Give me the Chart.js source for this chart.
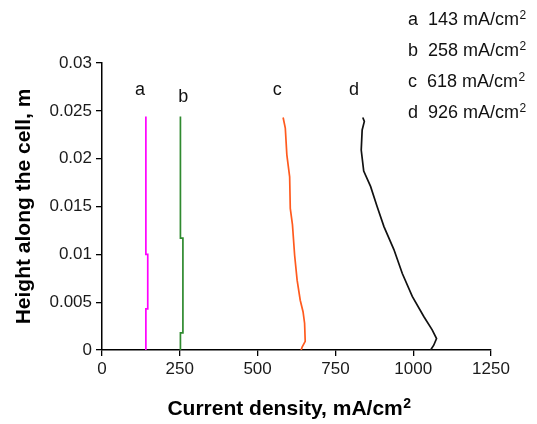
<!DOCTYPE html>
<html>
<head>
<meta charset="utf-8">
<script src="https://cdn.jsdelivr.net/npm/chart.js@4/dist/chart.umd.min.js"></script>
<style>
  html, body { margin: 0; padding: 0; background: #fff; }
  #wrap { width: 537px; height: 424px; position: relative; }
</style>
</head>
<body>
<div id="wrap"><canvas id="c"></canvas></div>
<script>
// ---- data ----
const seriesNames = ['a', 'b', 'c', 'd'];
const legendValues = [143, 258, 618, 926];
const unitText = 'mA/cm';

const aX = [141, 141, 147, 147, 141, 141];
const aY = [0, 0.0043, 0.0043, 0.0100, 0.0100, 0.0244];

const bX = [252, 252, 260, 260, 252, 252];
const bY = [0, 0.0018, 0.0018, 0.0117, 0.0117, 0.0244];

const cX = [640, 643, 653, 651, 646, 637, 627, 619, 612, 605, 603, 594, 589, 582];
const cY = [0, 0.0003, 0.0009, 0.0028, 0.0040, 0.0052, 0.0073, 0.0099, 0.0131, 0.0148, 0.0181, 0.0204, 0.0232, 0.0243];

const dX = [1056, 1066, 1075, 1061, 1034, 997, 965, 938, 906, 884, 863, 841, 833, 836, 843, 838];
const dY = [0, 0.0005, 0.0012, 0.0021, 0.0035, 0.0056, 0.0080, 0.0105, 0.0129, 0.0150, 0.0171, 0.0187, 0.0209, 0.0230, 0.0239, 0.0243];

const labelX = [122, 261, 563, 810];
const labelY = [0.0272, 0.0264, 0.0272, 0.0272];

const xTickLabels = ['0', '250', '500', '750', '1000', '1250'];
const xTickValues = [0, 250, 500, 750, 1000, 1250];
const yTickLabels = ['0', '0.005', '0.01', '0.015', '0.02', '0.025', '0.03'];
const yTickValues = [0, 0.005, 0.01, 0.015, 0.02, 0.025, 0.03];

const xTitle = 'Current density, mA/cm';
const yTitle = 'Height along the cell, m';

const colors = ['#ff00ff', '#2f8a2f', '#ff5a1e', '#111111'];

// ---- build ----
const FAM = '"Liberation Sans", Arial, sans-serif';
function pts(xs, ys) { return xs.map((x, i) => ({ x: x, y: ys[i] })); }
const allX = [aX, bX, cX, dX];
const allY = [aY, bY, cY, dY];

const datasets = seriesNames.map((n, i) => ({
  label: n,
  data: pts(allX[i], allY[i]),
  borderColor: colors[i],
  backgroundColor: colors[i],
  borderWidth: 1.7,
  pointRadius: 0,
  showLine: true,
  fill: false,
  tension: 0
}));

function textWithSup(ctx, base, sup, x, y, font, supFont, rise) {
  ctx.font = font;
  ctx.fillText(base, x, y);
  const w = ctx.measureText(base).width;
  ctx.font = supFont;
  ctx.fillText(sup, x + w + 0.5, y - rise);
  return w + ctx.measureText(sup).width;
}

const textPlugin = {
  id: 'texts',
  afterDraw(chart) {
    const ctx = chart.ctx;
    const xs = chart.scales.x, ys = chart.scales.y;
    ctx.save();
    ctx.fillStyle = '#111';
    ctx.font = '18px ' + FAM;
    ctx.textAlign = 'center';
    ctx.textBaseline = 'middle';
    seriesNames.forEach((n, i) => {
      ctx.fillText(n, xs.getPixelForValue(labelX[i]), ys.getPixelForValue(labelY[i]));
    });
    ctx.textAlign = 'left';
    ctx.textBaseline = 'alphabetic';
    seriesNames.forEach((n, i) => {
      textWithSup(ctx, n + '  ' + legendValues[i] + ' ' + unitText, '2', 408, 24.5 + i * 31.3,
        '18px ' + FAM, '12px ' + FAM, 6);
    });
    // x axis title with superscript
    ctx.fillStyle = '#000';
    ctx.font = 'bold 21px ' + FAM;
    const bw = ctx.measureText(xTitle).width;
    ctx.font = 'bold 14px ' + FAM;
    const sw = ctx.measureText('2').width;
    const cx = 289;
    textWithSup(ctx, xTitle, '2', cx - (bw + sw) / 2, 415, 'bold 21px ' + FAM, 'bold 14px ' + FAM, 7);
    ctx.restore();
  }
};

new Chart(document.getElementById('c'), {
  type: 'scatter',
  data: { datasets: datasets },
  options: {
    responsive: true,
    maintainAspectRatio: false,
    animation: false,
    layout: { padding: { left: 0, right: 46, top: 63, bottom: 0 } },
    plugins: { legend: { display: false }, tooltip: { enabled: false } },
    scales: {
      x: {
        type: 'linear',
        min: 0, max: 1250,
        afterBuildTicks: (s) => { s.ticks = xTickValues.map(v => ({ value: v })); },
        afterFit: (s) => { s.height = 74; },
        ticks: {
          color: '#1a1a1a',
          font: { size: 17, family: FAM },
          padding: 3,
          maxRotation: 0,
          callback: (v, i) => xTickLabels[i]
        },
        grid: { drawOnChartArea: false, drawTicks: true, tickLength: 6, color: '#000', lineWidth: 1.3 },
        border: { color: '#000', width: 1.5 },
        title: { display: false }
      },
      y: {
        type: 'linear',
        min: 0, max: 0.03,
        afterBuildTicks: (s) => { s.ticks = yTickValues.map(v => ({ value: v })); },
        afterFit: (s) => { s.width = 102; },
        ticks: {
          color: '#1a1a1a',
          font: { size: 17, family: FAM },
          padding: 4,
          callback: (v, i) => yTickLabels[i]
        },
        grid: { drawOnChartArea: false, drawTicks: true, tickLength: 6, color: '#000', lineWidth: 1.3 },
        border: { color: '#000', width: 1.5 },
        title: {
          display: true,
          text: yTitle,
          color: '#000',
          font: { size: 21, weight: 'bold', family: FAM },
          padding: { top: 12, bottom: 0 }
        }
      }
    }
  },
  plugins: [textPlugin]
});
</script>
</body>
</html>
